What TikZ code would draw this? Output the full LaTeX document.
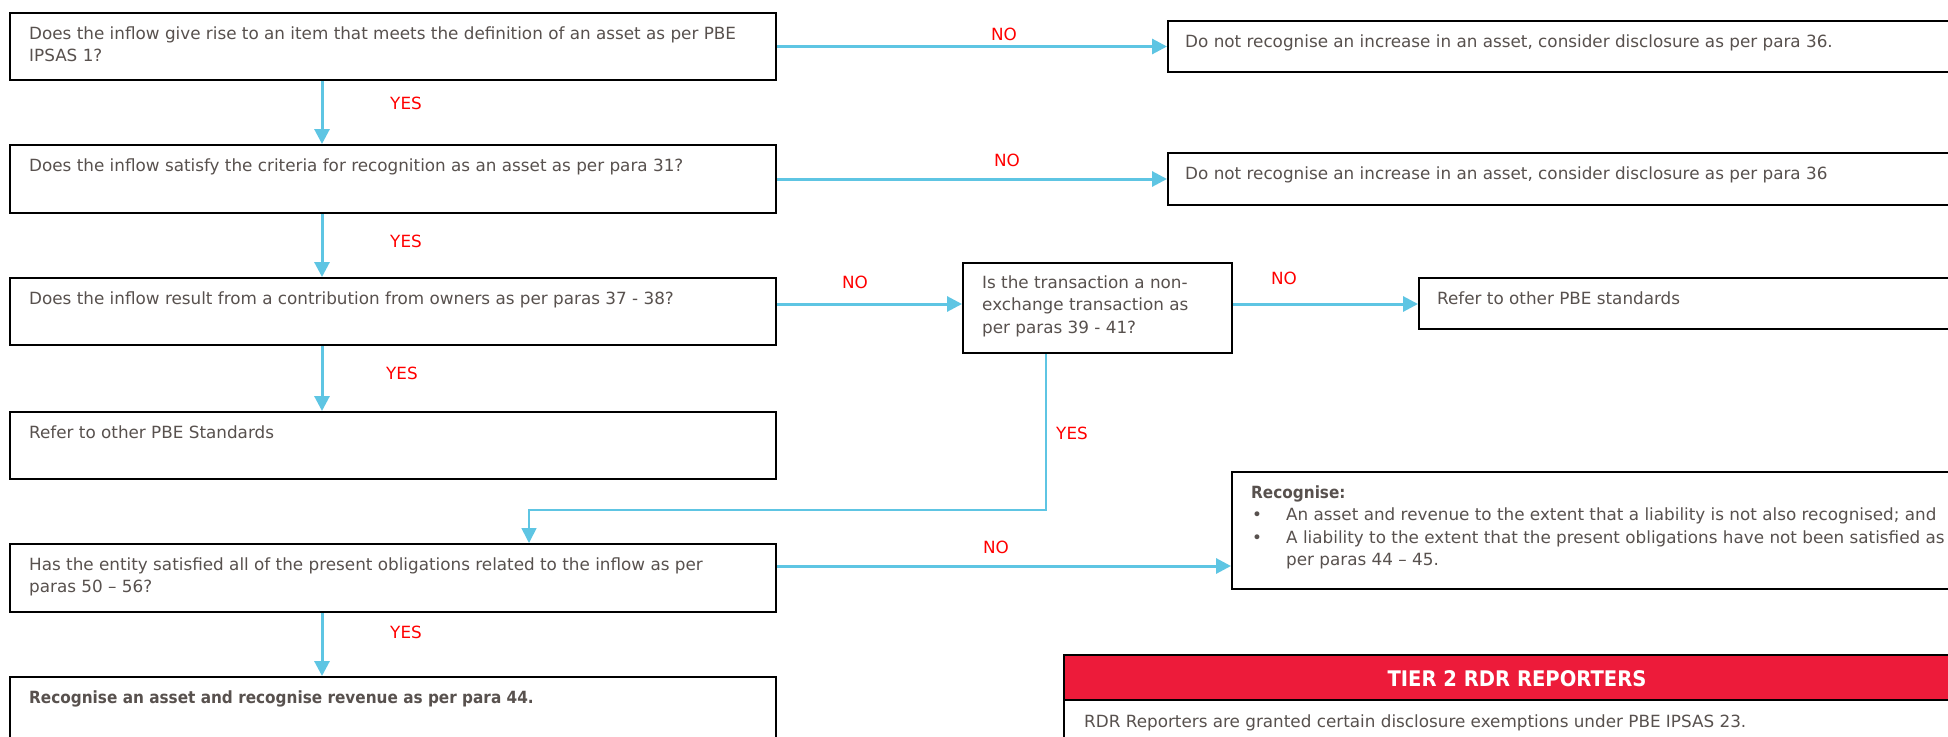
\documentclass[tikz,border=0pt]{standalone}
\usepackage{fontspec}
\setmainfont{DejaVu Sans}
\newfontfamily\bnarrow{DejaVu Sans}[FakeStretch=0.91]
\usetikzlibrary{arrows.meta}
\definecolor{txtc}{RGB}{88,81,78}
\definecolor{flow}{RGB}{94,197,227}
\definecolor{lblred}{RGB}{255,0,0}
\definecolor{tierred}{RGB}{237,27,58}
\tikzset{
  box/.style={draw=black, line width=2pt, anchor=north west, inner sep=0pt},
  txt/.style={anchor=base west, inner sep=0pt, text=txtc, font=\fontsize{16.8}{22.5}\selectfont},
  lbl/.style={anchor=base, inner sep=0pt, text=lblred, font=\fontsize{16.8}{22.5}\selectfont},
  arr/.style={draw=flow, line width=3pt, -{Triangle[length=15pt,width=15pt]}},
  thinarr/.style={draw=flow, line width=1.6pt, -{Triangle[length=15pt,width=15pt]}},
}
\begin{document}
\begin{tikzpicture}[x=1pt,y=-1pt]
\useasboundingbox (0,0) rectangle (1948,736);
\clip (0,0) rectangle (1948,736);
\fill[white] (0,0) rectangle (1948,736);

% left column boxes
\node[box, minimum width=766pt, minimum height=67pt] (q1) at (9,12) {};
\node[box, minimum width=766pt, minimum height=68pt] (q2) at (9,144) {};
\node[box, minimum width=766pt, minimum height=67pt] (q3) at (9,277) {};
\node[box, minimum width=766pt, minimum height=67pt] (q4) at (9,411) {};
\node[box, minimum width=766pt, minimum height=68pt] (q5) at (9,543) {};
\node[box, minimum width=766pt, minimum height=90pt] (q6) at (9,676) {};

\node[txt] (q1t) at (29,39) {\parbox[t]{740pt}{Does the inflow give rise to an item that meets the definition of an asset as per PBE\\IPSAS 1?}};
\node[txt] (q2t) at (29,171) {Does the inflow satisfy the criteria for recognition as an asset as per para 31?};
\node[txt] (q3t) at (29,304) {Does the inflow result from a contribution from owners as per paras 37 - 38?};
\node[txt] (q4t) at (29,438) {Refer to other PBE Standards};
\node[txt] (q5t) at (29,570) {\parbox[t]{740pt}{Has the entity satisfied all of the present obligations related to the inflow as per\\paras 50 – 56?}};
\node[txt] (q6t) at (29,703) {{\bnarrow\bfseries Recognise an asset and recognise revenue as per para 44.}};

% right column boxes
\node[box, minimum width=900pt, minimum height=51pt] (r1) at (1167,20) {};
\node[box, minimum width=900pt, minimum height=52pt] (r2) at (1167,152) {};
\node[box, minimum width=269pt, minimum height=90pt] (ne) at (962,262) {};
\node[box, minimum width=700pt, minimum height=51pt] (r3) at (1418,277) {};
\node[box, minimum width=900pt, minimum height=117pt] (rec) at (1231,471) {};

\node[txt] (r1t) at (1185,47) {Do not recognise an increase in an asset, consider disclosure as per para 36.};
\node[txt] (r2t) at (1185,179) {Do not recognise an increase in an asset, consider disclosure as per para 36};
\node[txt] (net) at (982,288) {\parbox[t]{240pt}{Is the transaction a non-\\exchange transaction as\\per paras 39 - 41?}};
\node[txt] (r3t) at (1437,304) {Refer to other PBE standards};
\node[txt] (rect) at (1251,498) {\parbox[t]{800pt}{{\bnarrow\bfseries Recognise:}\\
\makebox[35pt][l]{\hspace{1pt}•}An asset and revenue to the extent that a liability is not also recognised; and\\
\makebox[35pt][l]{\hspace{1pt}•}A liability to the extent that the present obligations have not been satisfied as\\
\hspace*{35pt}per paras 44 – 45.}};

% tier 2 box
\node[box, minimum width=950pt, minimum height=150pt] (tier) at (1063,654) {};
\node[box, fill=tierred, line width=1.5pt, minimum width=950pt, minimum height=45pt] (tierh) at (1063,654) {};
\node[anchor=base, inner sep=0pt, text=white, font=\fontsize{21.5}{24}\selectfont\bnarrow\bfseries] (tiert) at (1517,686) {TIER 2 RDR REPORTERS};
\node[txt] (tierb) at (1084,727) {RDR Reporters are granted certain disclosure exemptions under PBE IPSAS 23.};

% connectors
\coordinate (cx) at (322,0);
\draw[arr] (q1.south -| cx) -- (q2.north -| cx);
\draw[arr] (q2.south -| cx) -- (q3.north -| cx);
\draw[arr] (q3.south -| cx) -- (q4.north -| cx);
\draw[arr] (q5.south -| cx) -- (q6.north -| cx);

\draw[arr] (q1.east) -- (r1.west);
\draw[arr] (q2.east) -- (r2.west);
\draw[arr] (q3.east |- 0,304) -- (ne.west |- 0,304);
\draw[arr] (ne.east |- 0,304) -- (r3.west |- 0,304);
\draw[arr] (q5.east |- 0,566) -- (rec.west |- 0,566);

\coordinate (bend) at (529,510);
\draw[thinarr] (ne.south -| 1046,0) |- (bend) -- (q5.north -| bend);

% labels
\node[lbl] (y1) at (406,109) {YES};
\node[lbl] (y2) at (406,247) {YES};
\node[lbl] (y3) at (402,379) {YES};
\node[lbl] (y4) at (1072,439) {YES};
\node[lbl] (y5) at (406,638) {YES};
\node[lbl] (n1) at (1004,40) {NO};
\node[lbl] (n2) at (1007,166) {NO};
\node[lbl] (n3) at (855,288) {NO};
\node[lbl] (n4) at (1284,284) {NO};
\node[lbl] (n5) at (996,553) {NO};
\end{tikzpicture}
\end{document}
